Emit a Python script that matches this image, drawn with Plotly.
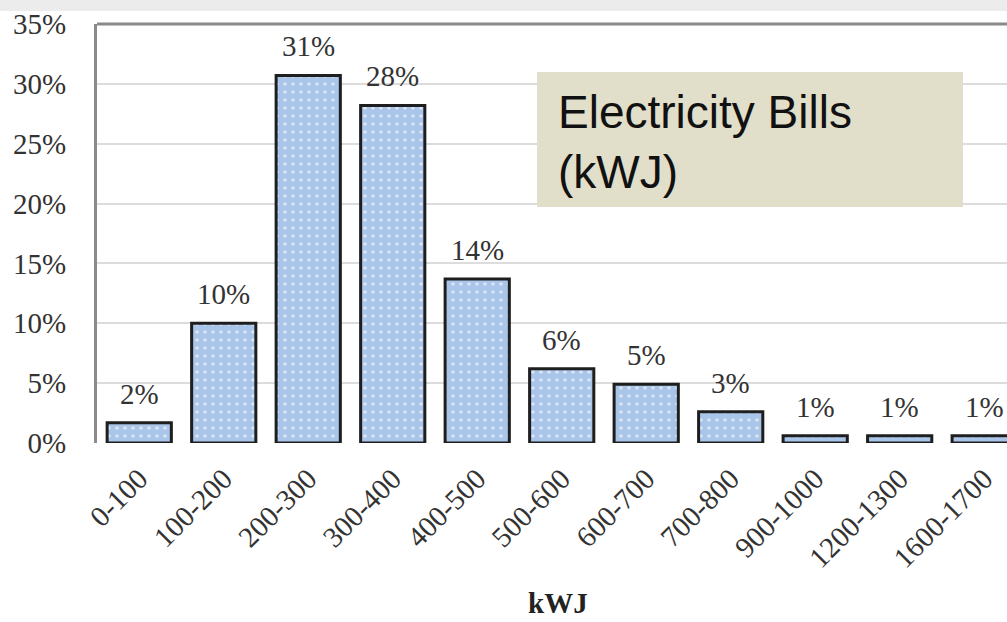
import plotly.graph_objects as go

# Share of households by monthly consumption band
bands = ["0-100", "100-200", "200-300", "300-400", "400-500", "500-600",
         "600-700", "700-800", "900-1000", "1200-1300", "1600-1700"]
shares = [0.017, 0.100, 0.307, 0.282, 0.137, 0.062, 0.049, 0.026, 0.006, 0.006, 0.006]
y_ticks = [0, 0.05, 0.10, 0.15, 0.20, 0.25, 0.30, 0.35]

serif = "Liberation Serif, Times New Roman, serif"
label_color = "#333333"

fig = go.Figure()
fig.add_trace(go.Bar(
    x=bands,
    y=shares,
    width=0.76,
    marker=dict(
        color="#A9C5E9",
        line=dict(color="#1e1e1e", width=3),
        pattern=dict(shape=".", fgcolor="#DCE7F5", bgcolor="#A9C5E9",
                     size=8, solidity=0.15, fillmode="replace"),
    ),
    hoverinfo="skip",
))

# Value labels above each bar
for band, val in zip(bands, shares):
    fig.add_annotation(
        x=band, y=val, text=f"{val:.0%}", showarrow=False,
        yanchor="bottom", yshift=11,
        font=dict(family=serif, size=29, color=label_color),
    )

# Axis title
fig.add_annotation(
    x=0.507, y=-(603 - 443) / 419, xref="paper", yref="paper", text="<b>kWJ</b>",
    showarrow=False, xanchor="center", yanchor="middle",
    font=dict(family=serif, size=29, color="#222222"),
)

# Caption box
fig.add_shape(type="rect", xref="paper", yref="paper",
              x0=(537 - 97) / 910, x1=(963 - 97) / 910,
              y0=(443 - 207) / 419, y1=(443 - 72) / 419,
              fillcolor="#E1DECA", line=dict(width=0), layer="above")
fig.add_annotation(
    x=(556 - 97) / 910, y=(443 - 142) / 419, xref="paper", yref="paper",
    text="Electricity Bills<br>(kWJ)", showarrow=False, align="left",
    xanchor="left", yanchor="middle",
    font=dict(family="Liberation Sans, Arial, sans-serif", size=46, color="#111111"),
)

# Frame line along the top of the plotting area and faint band above it
fig.add_shape(type="line", xref="paper", yref="paper", x0=0, x1=1, y0=1, y1=1,
              line=dict(color="#8a8a8a", width=3))
fig.add_shape(type="rect", xref="paper", yref="paper", x0=-0.2, x1=1.0,
              y0=1 + 13 / 419, y1=1 + 24 / 419,
              fillcolor="#ececec", line=dict(width=0), layer="below")

fig.update_layout(
    width=1007, height=622,
    margin=dict(l=97, r=0, t=24, b=179),
    paper_bgcolor="white", plot_bgcolor="white",
    showlegend=False,
    xaxis=dict(
        range=[-0.5, 10.27], tickangle=-45,
        tickfont=dict(family=serif, size=29, color=label_color),
        showgrid=False, showline=False, zeroline=False, ticks="",
        ticklabelstandoff=12,
    ),
    yaxis=dict(
        range=[0, 0.35], tickvals=y_ticks, tickformat=".0%",
        tickfont=dict(family=serif, size=29, color=label_color),
        showgrid=True, gridcolor="#dcdcdc", gridwidth=2,
        showline=True, linecolor="#8a8a8a", linewidth=3,
        zeroline=False, ticks="", ticklabelstandoff=22,
    ),
)

fig.write_html("out.html")
